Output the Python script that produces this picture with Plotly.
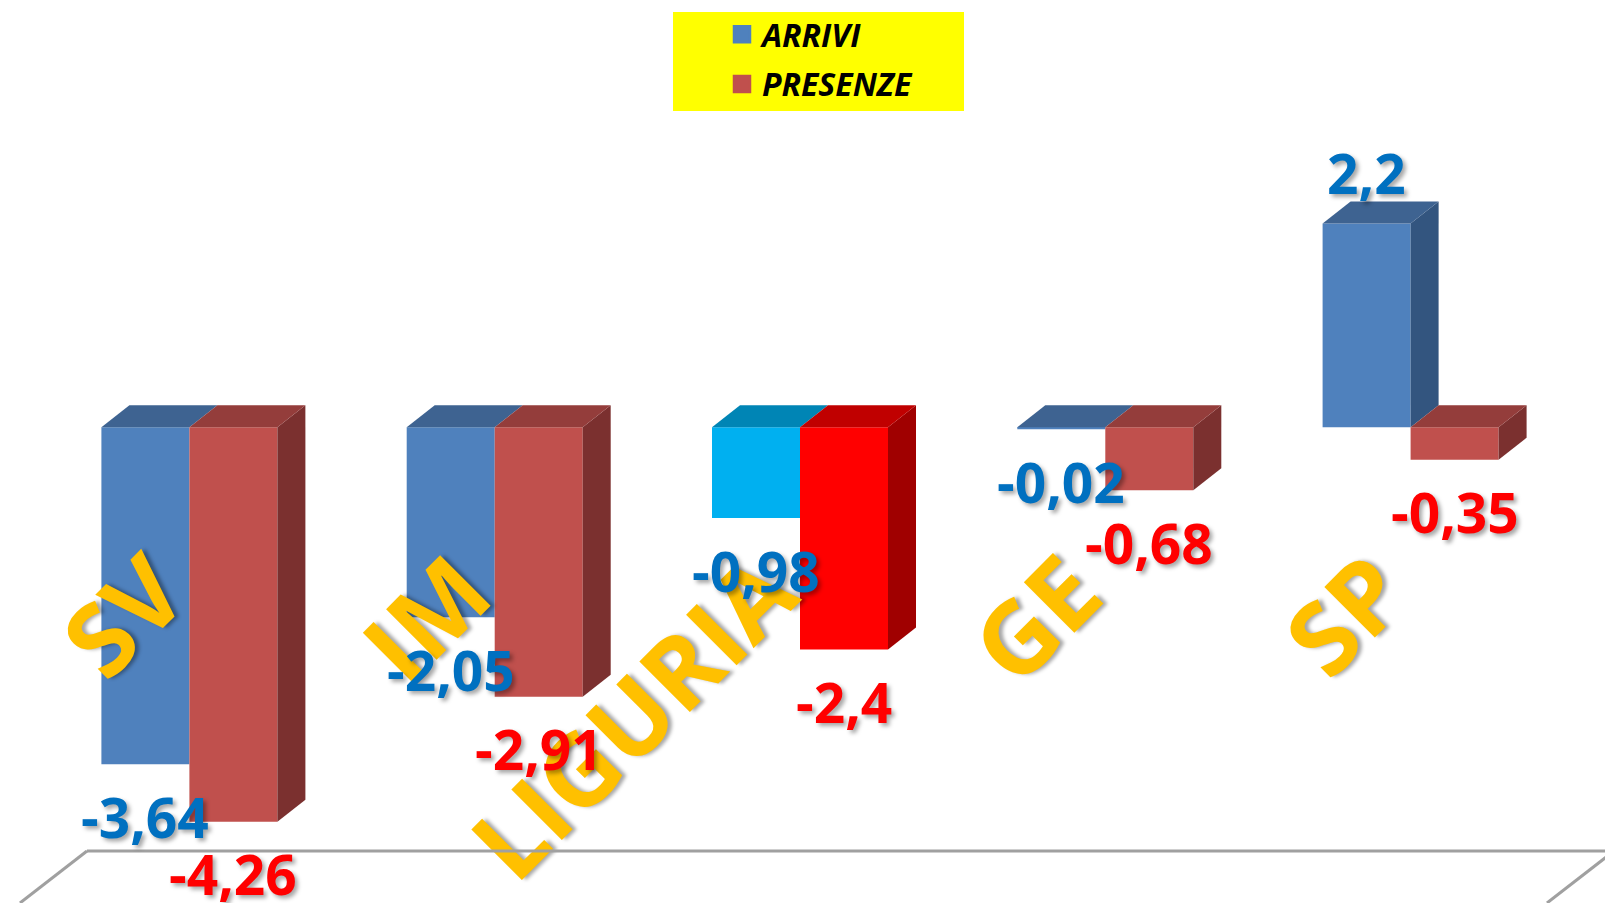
import plotly.graph_objects as go

# ---------------- data ----------------
categories = ["SV", "IM", "LIGURIA", "GE", "SP"]
arrivi = [-3.64, -2.05, -0.98, -0.02, 2.2]
presenze = [-4.26, -2.91, -2.4, -0.68, -0.35]
series_names = ["ARRIVI", "PRESENZE"]

# ---------------- styles ----------------
arrivi_front = ["#4F81BD", "#4F81BD", "#00B0F0", "#4F81BD", "#4F81BD"]
arrivi_top = ["#3E6391", "#3E6391", "#0085B5", "#3E6391", "#3E6391"]
arrivi_side = ["#33557F", "#33557F", "#006F98", "#33557F", "#33557F"]
presenze_front = ["#C0504D", "#C0504D", "#FF0000", "#C0504D", "#C0504D"]
presenze_top = ["#943D3B", "#943D3B", "#C00000", "#943D3B", "#943D3B"]
presenze_side = ["#7B302F", "#7B302F", "#A00000", "#7B302F", "#7B302F"]
label_blue = "#0070C0"
label_red = "#FF0000"
cat_color = "#FFC000"

W, H = 1605, 903
px_x, x0px = 305.3, 189.4     # pixels per category, pixel of first category
px_y, y0px = 92.6, 427.3      # pixels per unit, pixel of zero line
xrange_ = [-x0px / px_x, (W - x0px) / px_x]
yrange_ = [-(H - y0px) / px_y, y0px / px_y]
bw = 88 / px_x
dx = 28 / px_x
dy = 22 / px_y

idx = list(range(len(categories)))
xa = [i - bw / 2 for i in idx]
xp = [i + bw / 2 for i in idx]

fig = go.Figure()

# front faces (bars)
fig.add_trace(go.Bar(x=xa, y=arrivi, width=bw, marker=dict(color=arrivi_front, line=dict(width=0)),
                     showlegend=False, hoverinfo="skip"))
fig.add_trace(go.Bar(x=xp, y=presenze, width=bw, marker=dict(color=presenze_front, line=dict(width=0)),
                     showlegend=False, hoverinfo="skip"))


def poly(xs, ys, color):
    fig.add_trace(go.Scatter(x=xs + [xs[0]], y=ys + [ys[0]], fill="toself", fillcolor=color,
                             mode="lines", line=dict(width=0, color=color),
                             showlegend=False, hoverinfo="skip"))


# depth faces for ARRIVI (side clipped to the part not hidden by PRESENZE)
for i in idx:
    a, p = arrivi[i], presenze[i]
    xl, xr = xa[i] - bw / 2, xa[i] + bw / 2
    top = max(a, 0)
    bot = max(min(a, 0), max(p, 0))
    if top > bot:
        poly([xr, xr, xr + dx, xr + dx], [bot, top, top + dy, bot + dy], arrivi_side[i])
    poly([xl, xr, xr + dx, xl + dx], [top, top, top + dy, top + dy], arrivi_top[i])

# depth faces for PRESENZE
for i in idx:
    p = presenze[i]
    xl, xr = xp[i] - bw / 2, xp[i] + bw / 2
    top, bot = max(p, 0), min(p, 0)
    poly([xr, xr, xr + dx, xr + dx], [bot, top, top + dy, bot + dy], presenze_side[i])
    poly([xl, xr, xr + dx, xl + dx], [top, top, top + dy, top + dy], presenze_top[i])

# legend entries
fig.add_trace(go.Scatter(x=[None], y=[None], mode="markers", name=series_names[0], legendgroup="a",
                         marker=dict(symbol="square", size=16, color="#4F81BD",
                                     line=dict(width=2.5, color="#4F81BD"))))
fig.add_trace(go.Scatter(x=[None], y=[None], mode="markers", name=series_names[1], legendgroup="p",
                         marker=dict(symbol="square", size=16, color="#C0504D",
                                     line=dict(width=2.5, color="#C0504D"))))


def fmt(v):
    return f"{v:g}".replace(".", ",")


shadow = "3px 3px 4px rgba(0,0,0,0.35)"
for xs, vals, col in ((xa, arrivi, label_blue), (xp, presenze, label_red)):
    for x, v in zip(xs, vals):
        fig.add_annotation(x=x, y=v, text=fmt(v), showarrow=False,
                           yshift=-52 if v < 0 else 51,
                           font=dict(family="Open Sans", size=55, color=col, weight="bold", shadow=shadow))

# decorations: legend box and floor
fig.add_shape(type="rect", xref="paper", yref="paper", x0=673 / W, x1=964 / W,
              y0=1 - 111 / H, y1=1 - 12 / H, fillcolor="#FFFF00", line=dict(width=0), layer="below")
floor = dict(color="#A0A0A0", width=3)
fig.add_shape(type="line", xref="paper", yref="paper", x0=87 / W, y0=1 - 851 / H, x1=1, y1=1 - 851 / H, line=floor)
fig.add_shape(type="line", xref="paper", yref="paper", x0=87 / W, y0=1 - 851 / H, x1=20 / W, y1=0, line=floor)
fig.add_shape(type="line", xref="paper", yref="paper", x0=1614 / W, y0=1 - 851 / H, x1=1547 / W, y1=0, line=floor)

fig.update_layout(
    width=W, height=H, margin=dict(l=0, r=0, t=0, b=0),
    paper_bgcolor="white", plot_bgcolor="rgba(0,0,0,0)",
    barmode="overlay",
    xaxis=dict(range=xrange_, tickvals=idx, ticktext=categories, tickangle=-45,
               anchor="free", position=(H - 513) / H, showgrid=False, zeroline=False,
               showline=False, ticks="", ticklabelshift=-33, automargin=False,
               tickfont=dict(family="Open Sans", size=100, color=cat_color, weight="bold", shadow=shadow)),
    yaxis=dict(range=yrange_, visible=False, automargin=False),
    legend=dict(x=(762 - 40) / W, xanchor="left", y=1 - 7 / H, yanchor="top",
                bgcolor="rgba(0,0,0,0)", traceorder="grouped", tracegroupgap=5,
                font=dict(family="Open Sans", size=32, color="black", weight="bold", style="italic")),
    showlegend=True,
)

post = "document.body.style.margin='0';document.body.style.overflow='hidden';"
fig.write_html("out.html", config={"displayModeBar": False}, post_script=post)
